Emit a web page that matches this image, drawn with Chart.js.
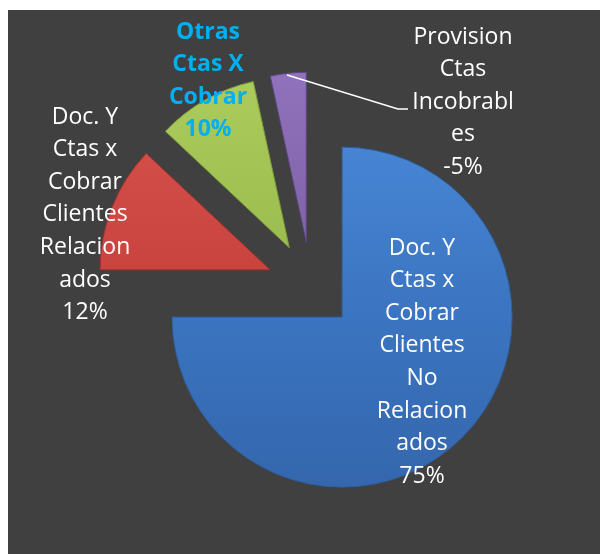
<!DOCTYPE html>
<html>
<head>
<meta charset="utf-8">
<script src="https://cdn.jsdelivr.net/npm/chart.js@4"></script>
<style>
  html, body { margin: 0; padding: 0; background: #ffffff; }
  #wrap { position: absolute; left: 8px; top: 10px; width: 592px; height: 544px; background: #404040; }
</style>
</head>
<body>
<div id="wrap"><canvas id="pie"></canvas></div>
<script>
// Data
const categories = [
    'Doc. Y Ctas x Cobrar Clientes No Relacionados',
    'Doc. Y Ctas x Cobrar Clientes Relacionados',
    'Otras Ctas X Cobrar',
    'Provision Ctas Incobrables'
];
const sliceValues = [75, 12, 9.6, 3.4];          // slice sizes
const pctLabels = ['75%', '12%', '10%', '-5%'];   // percentages printed on the chart
const labelLines = [
    ['Doc. Y', 'Ctas x', 'Cobrar', 'Clientes', 'No', 'Relacion', 'ados'],
    ['Doc. Y', 'Ctas x', 'Cobrar', 'Clientes', 'Relacion', 'ados'],
    ['Otras', 'Ctas X', 'Cobrar'],
    ['Provision', 'Ctas', 'Incobrabl', 'es']
];

// Styling
const explode = 44;
const colorStops = [
    ['#4a8ada', '#3b74c0', '#3263a8'],   // blue
    ['#dc5650', '#c9443f', '#b53a36'],   // red
    ['#b0d060', '#9cbd4f', '#8aab43'],   // green
    ['#9577c2', '#8062a8', '#6c5192']    // purple
];
const edgeColors = ['#2f5f9e', '#9e3330', '#7a9a3a', '#5c4680'];
// label anchors relative to the pie centre (x, y of first line)
const labelAnchors = [[111, -38], [-226, -169], [-103, -254], [152, -249]];
const labelColors = ['#ffffff', '#ffffff', '#00b0f0', '#ffffff'];
const labelBold = [false, false, true, false];
const lineStep = 32.6;

function sliceGradient(context) {
    const chart = context.chart;
    const area = chart.chartArea;
    const stops = colorStops[context.dataIndex % colorStops.length];
    if (!area) return stops[1];
    const cy = (area.top + area.bottom) / 2;
    const g = chart.ctx.createLinearGradient(0, cy - 220, 0, cy + 220);
    g.addColorStop(0, stops[0]);
    g.addColorStop(0.5, stops[1]);
    g.addColorStop(1, stops[2]);
    return g;
}

// draw every arc pushed out along its bisector
const explodePlugin = {
    id: 'explodeSlices',
    beforeDatasetDraw(chart, args) {
        const ctx = chart.ctx;
        args.meta.data.forEach(arc => {
            const mid = (arc.startAngle + arc.endAngle) / 2;
            ctx.save();
            ctx.translate(Math.cos(mid) * explode, Math.sin(mid) * explode);
            arc.draw(ctx, chart.chartArea);
            ctx.restore();
        });
        return false;
    }
};

const labelPlugin = {
    id: 'sliceLabels',
    afterDraw(chart) {
        const ctx = chart.ctx;
        const arc0 = chart.getDatasetMeta(0).data[0];
        const cx = arc0.x, cy = arc0.y;
        ctx.save();
        ctx.textAlign = 'center';
        ctx.textBaseline = 'middle';
        labelLines.forEach((lines, i) => {
            const all = lines.concat([pctLabels[i]]);
            ctx.fillStyle = labelColors[i];
            ctx.font = (labelBold[i] ? 'bold ' : '') + '23px "Open Sans"';
            all.forEach((t, j) => {
                ctx.fillText(t, cx + labelAnchors[i][0], cy + labelAnchors[i][1] + j * lineStep);
            });
        });
        // leader line for the small slice
        ctx.strokeStyle = '#ffffff';
        ctx.lineWidth = 1.5;
        ctx.beginPath();
        ctx.moveTo(cx - 24, cy - 211);
        ctx.lineTo(cx + 87, cy - 177);
        ctx.lineTo(cx + 97, cy - 177);
        ctx.stroke();
        ctx.restore();
    }
};

new Chart(document.getElementById('pie').getContext('2d'), {
    type: 'pie',
    data: {
        labels: categories,
        datasets: [{
            data: sliceValues,
            backgroundColor: sliceGradient,
            borderColor: edgeColors,
            borderWidth: 1
        }]
    },
    options: {
        responsive: true,
        maintainAspectRatio: false,
        animation: false,
        radius: 170,
        layout: { padding: { left: 14, top: 8, right: 0, bottom: 0 } },
        plugins: {
            legend: { display: false },
            tooltip: { enabled: false }
        }
    },
    plugins: [explodePlugin, labelPlugin]
});
</script>
</body>
</html>
